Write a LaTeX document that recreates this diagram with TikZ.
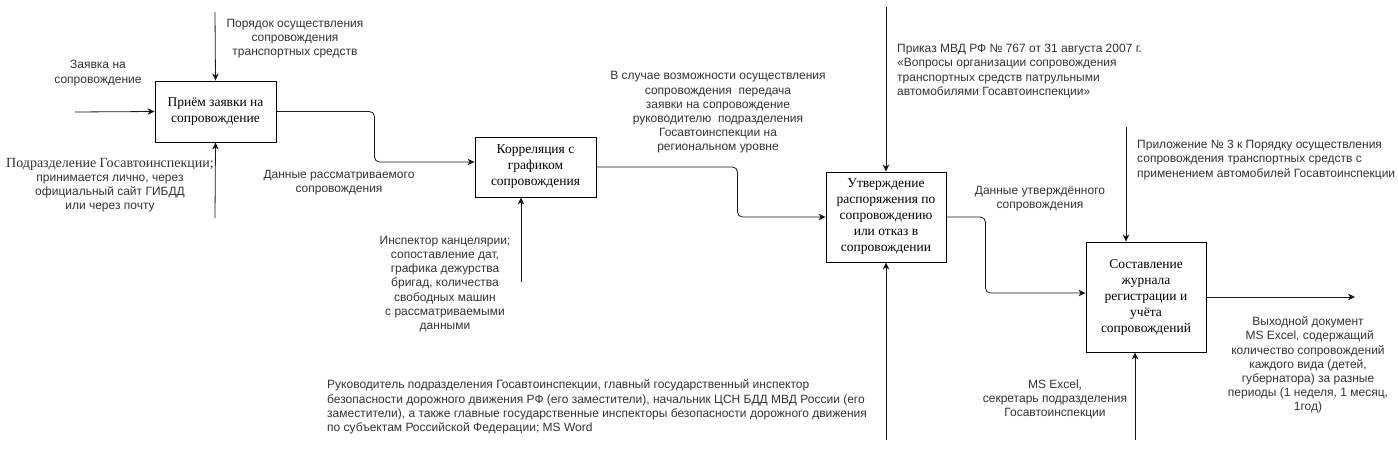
\documentclass[tikz,border=0pt]{standalone}
\usepackage{fontspec}
\setmainfont{Liberation Sans}
\newfontfamily\boxfont{Liberation Serif}
\usetikzlibrary{arrows.meta}
\begin{document}
\begin{tikzpicture}[x=1pt,y=-1pt,
  proc/.style={draw=black, line width=0.9pt, fill=white, align=center, inner sep=0pt,
    font=\boxfont\fontsize{13.5}{16}\selectfont},
  lbl/.style={align=center, inner sep=0pt, text=black!80, font=\fontsize{12}{14.2}\selectfont},
  lbll/.style={lbl, align=left},
  conn/.style={draw=black!90, line width=0.8pt, rounded corners=5pt,
    -{Stealth[length=7pt,width=6.5pt,inset=2pt]}}
]
\useasboundingbox[fill=white] (0,0) rectangle (1398,452);

% process boxes
\node[proc, minimum width=121pt, minimum height=61pt] (b1) at (215.5,111.5) {Приём заявки на\\сопровождение};
\node[proc, minimum width=121pt, minimum height=60pt] (b2) at (535.5,167) {Корреляция с\\графиком\\сопровождения};
\node[proc, minimum width=120pt, minimum height=90pt] (b3) at (886,217) {Утверждение\\распоряжения по\\сопровождению\\или отказ в\\сопровождении};
\node[proc, minimum width=120pt, minimum height=110pt] (b4) at (1146,297) {Составление\\журнала\\регистрации и\\учёта\\сопровождений};

% free ends
\coordinate (in1) at (75,112);
\coordinate (c1) at (215,12);
\coordinate (m1) at (215,218);
\coordinate (m2) at (521,282);
\coordinate (c3) at (886,7);
\coordinate (m3) at (886,440);
\coordinate (c4) at (1126,127);
\coordinate (m4) at (1135,440);
\coordinate (o4) at (1355,297);

% connectors
\draw[conn] (in1) -- (b1.west);
\draw[conn] (c1) -- (b1.north);
\draw[conn] (m1) -- (b1.south);
\draw[conn] (b1.east) -- ++(98,0) |- ([yshift=5pt]b2.west);
\draw[conn] (m2) -- (m2 |- b2.south);
\draw[conn] (b2.east) -- ++(141,0) |- (b3.west);
\draw[conn] (c3) -- (b3.north);
\draw[conn] (m3) -- (b3.south);
\draw[conn] (b3.east) -- ++(39,0) |- ([yshift=4pt]b4.west);
\draw[conn] (c4) -- (c4 |- b4.north);
\draw[conn] (m4) -- (m4 |- b4.south);
\draw[conn] (b4.east) -- (o4);

% labels
\node[lbl] (l1) at (98,73) {Заявка на\\сопровождение};
\node[lbl] (l2) at (295,38.5) {Порядок осуществления\\сопровождения\\транспортных средств};
\node[lbl] (l3) at (110,185) {{\boxfont\fontsize{14}{14}\selectfont Подразделение Госавтоинспекции;}\\принимается лично, через\\официальный сайт ГИБДД\\или через почту};
\node[lbl] (l4) at (339,183) {Данные рассматриваемого\\сопровождения};
\node[lbl] (l5) at (445,284) {Инспектор канцелярии;\\сопоставление дат,\\графика дежурства\\ бригад, количества\\свободных машин\\с рассматриваемыми\\данными};
\node[lbl] (l6) at (718,112.5) {В случае возможности осуществления\\сопровождения\ \ передача\\заявки на сопровождение\\руководителю\ \ подразделения\\Госавтоинспекции на\\региональном уровне};
\node[lbll, anchor=west] (l7) at (897,71) {Приказ МВД РФ № 767 от 31 августа 2007 г.\\«Вопросы организации сопровождения\\транспортных средств патрульными\\автомобилями Госавтоинспекции»};
\node[lbl] (l8) at (1040,198.5) {Данные утверждённого\\сопровождения};
\node[lbll, anchor=west] (l9) at (1137,160) {Приложение № 3 к Порядку осуществления\\сопровождения транспортных средств с\\применением автомобилей Госавтоинспекции};
\node[lbll, anchor=west] (l10) at (327,407) {Руководитель подразделения Госавтоинспекции, главный государственный инспектор\\безопасности дорожного движения РФ (его заместители), начальник ЦСН БДД МВД России (его\\заместители), а также главные государственные инспекторы безопасности дорожного движения\\по субъектам Российской Федерации; MS Word};
\node[lbl] (l11) at (1055,399.5) {MS Excel,\\секретарь подразделения\\Госавтоинспекции};
\node[lbl] (l12) at (1308,365) {Выходной документ\\\ MS Excel, содержащий\\количество сопровождений\\каждого вида (детей,\\губернатора) за разные\\периоды (1 неделя, 1 месяц,\\1год)};
\end{tikzpicture}
\end{document}
